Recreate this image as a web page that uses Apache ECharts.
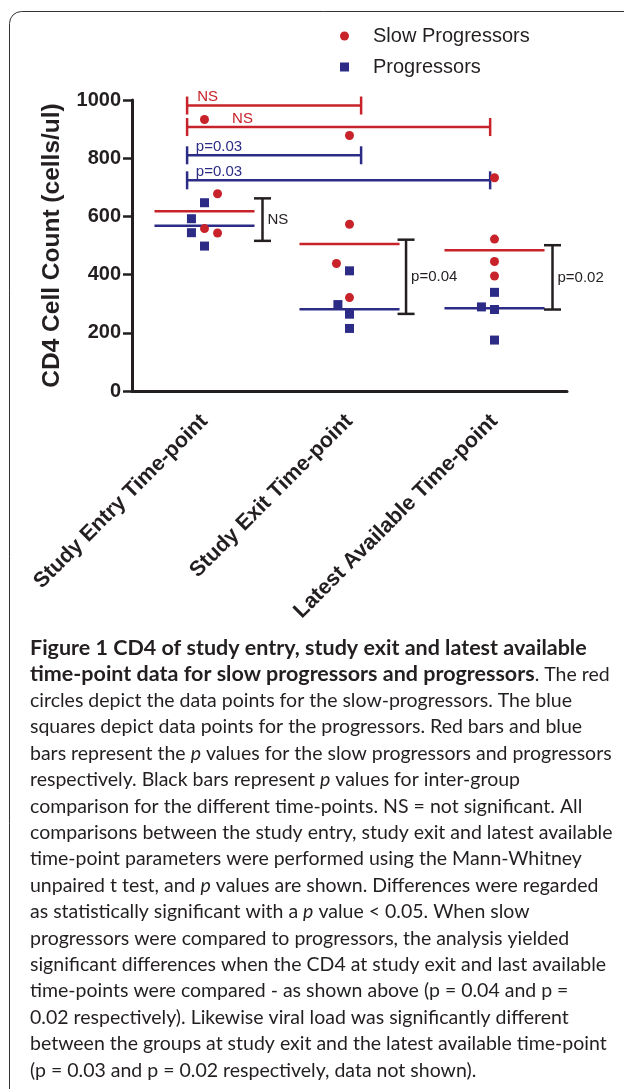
<!DOCTYPE html>
<html><head><meta charset="utf-8">
<script src="https://cdn.jsdelivr.net/npm/echarts@6/dist/echarts.min.js"></script>
<style>html,body{margin:0;padding:0;background:#fff}#c{width:624px;height:1089px}</style>
</head><body><div id="c"></div>
<script>
// ---------------- data ----------------
const categories = ['Study Entry Time-point', 'Study Exit Time-point', 'Latest Available Time-point'];
const seriesNames = ['Slow Progressors', 'Progressors'];
const slowValues = [[933, 678, 558, 543], [878, 573, 438, 321], [733, 522, 445, 395]];
const slowJitter = [[0, 0.09, 0, 0.09], [0, 0, -0.09, 0], [0, 0, 0, 0]];
const progValues = [[647, 592, 544, 498], [413, 297, 264, 215], [339, 289, 280, 175]];
const progJitter = [[0, -0.09, -0.09, 0], [0, -0.08, 0, 0], [0, -0.09, 0, 0]];
const yTicks = [0, 200, 400, 600, 800, 1000];
// within-group comparisons: [fromX, toX, level, labelX]
const slowComparisons = [[-0.12, 1.08, 981, -0.05], [-0.12, 1.97, 907, 0.19]];
const slowLabels = ['NS', 'NS'];
const progComparisons = [[-0.12, 1.08, 810, -0.06], [-0.12, 1.97, 724, -0.06]];
const progLabels = ['p=0.03', 'p=0.03'];
// between-group comparisons: [x, upper, lower]
const groupComparisons = [[0.4, 662, 516], [1.39, 520, 265], [2.4, 501, 280]];
const groupLabels = ['NS', 'p=0.04', 'p=0.02'];
const captionLines = [
  '{b|Figure 1 CD4 of study entry, study exit and latest available}',
  '{b|time-point data for slow progressors and progressors}. The red',
  'circles depict the data points for the slow-progressors. The blue',
  'squares depict data points for the progressors. Red bars and blue',
  'bars represent the {i|p} values for the slow progressors and progressors',
  'respectively. Black bars represent {i|p} values for inter-group',
  'comparison for the different time-points. NS = not significant. All',
  'comparisons between the study entry, study exit and latest available',
  'time-point parameters were performed using the Mann-Whitney',
  'unpaired t test, and {i|p} values are shown. Differences were regarded',
  'as statistically significant with a {i|p} value < 0.05. When slow',
  'progressors were compared to progressors, the analysis yielded',
  'significant differences when the CD4 at study exit and last available',
  'time-points were compared - as shown above (p = 0.04 and p =',
  '0.02 respectively). Likewise viral load was significantly different',
  'between the groups at study exit and the latest available time-point',
  '(p = 0.03 and p = 0.02 respectively, data not shown).'
];
// --------------------------------------

const RED = '#c8222a', BLUE = '#2c2c86', BLACK = '#231f20';
const FONT = '"Liberation Sans", Arial, sans-serif';
const CAP_FONT = 'Lato, "Open Sans", sans-serif';
const CAP_SIZE = 19.5, CAP_BOLD_SIZE = 21.5;

function median(a) {
  const s = a.slice().sort((x, y) => x - y), n = s.length;
  return n % 2 ? s[(n - 1) / 2] : (s[n / 2 - 1] + s[n / 2]) / 2;
}
function points(vals, jit) {
  const out = [];
  vals.forEach((arr, i) => arr.forEach((v, j) => out.push([i + jit[i][j], v])));
  return out;
}
function lineEl(x1, y1, x2, y2, color) {
  return { type: 'line', shape: { x1, y1, x2, y2 }, style: { stroke: color, lineWidth: 2.5 } };
}
function textEl(x, y, text, color, align, valign) {
  return { type: 'text', x, y, style: { text, fill: color, font: '15px ' + FONT,
    align, verticalAlign: valign, textAlign: align, textVerticalAlign: valign } };
}
function hBracket(color, labels) {
  return function (params, api) {
    const y = api.value(2);
    const p1 = api.coord([api.value(0), y]), p2 = api.coord([api.value(1), y]);
    const pl = api.coord([api.value(3), y]);
    const c = 9;
    return { type: 'group', children: [
      lineEl(p1[0], p1[1], p2[0], p2[1], color),
      lineEl(p1[0], p1[1] - c, p1[0], p1[1] + c, color),
      lineEl(p2[0], p2[1] - c, p2[0], p2[1] + c, color),
      textEl(pl[0], p1[1] - 1, labels[params.dataIndex], color, 'left', 'bottom')
    ] };
  };
}
function vBracket(params, api) {
  const x = api.value(0);
  const a = api.coord([x, api.value(1)]), b = api.coord([x, api.value(2)]);
  const c = 8.5;
  return { type: 'group', children: [
    lineEl(a[0], a[1], b[0], b[1], BLACK),
    lineEl(a[0] - c, a[1], a[0] + c, a[1], BLACK),
    lineEl(b[0] - c, b[1], b[0] + c, b[1], BLACK),
    textEl(a[0] + 5, (a[1] + b[1]) / 2, groupLabels[params.dataIndex], BLACK, 'left', 'middle')
  ] };
}
function medianLine(color) {
  return function (params, api) {
    const i = api.value(0), m = api.value(1);
    const a = api.coord([i - 0.345, m]), b = api.coord([i + 0.345, m]);
    return lineEl(a[0], a[1], b[0], b[1], color);
  };
}

const chart = echarts.init(document.getElementById('c'), null, { renderer: 'canvas' });
const captionGraphics = captionLines.map((t, k) => ({
  type: 'text', x: 30, y: 648 + k * 26.4, z: 10,
  style: { text: t, fill: BLACK, fontSize: CAP_SIZE, fontFamily: CAP_FONT,
    verticalAlign: 'middle', textVerticalAlign: 'middle',
    rich: {
      b: { fontWeight: 'bold', fontSize: CAP_BOLD_SIZE, fontFamily: CAP_FONT, fill: BLACK },
      i: { fontStyle: 'italic', fontSize: CAP_SIZE, fontFamily: CAP_FONT, fill: BLACK }
    } }
}));

chart.setOption({
  animation: false,
  backgroundColor: '#ffffff',
  textStyle: { fontFamily: FONT },
  grid: { left: 132, right: 57, top: 100, bottom: 698, containLabel: false },
  legend: {
    orient: 'vertical', left: 335, top: 21, itemWidth: 9, itemHeight: 9, itemGap: 11,
    data: [{ name: seriesNames[0], icon: 'circle' }, { name: seriesNames[1], icon: 'rect' }],
    textStyle: { fontSize: 20, color: BLACK, fontFamily: FONT, padding: [0, 0, 0, 19] },
    selectedMode: false
  },
  xAxis: [{
    type: 'category', data: categories, boundaryGap: true,
    axisLine: { onZero: false, lineStyle: { color: BLACK, width: 3 } },
    axisTick: { alignWithLabel: true, length: 9, lineStyle: { color: BLACK, width: 2.5 } },
    axisLabel: { rotate: 45, interval: 0, margin: 27, color: BLACK, fontSize: 21.5, fontWeight: 'bold', fontFamily: FONT },
    splitLine: { show: false }
  }, {
    type: 'value', min: -0.5, max: 2.5, show: false
  }],
  yAxis: {
    type: 'value', min: yTicks[0], max: yTicks[yTicks.length - 1], interval: yTicks[1] - yTicks[0],
    name: 'CD4 Cell Count (cells/ul)', nameLocation: 'middle', nameGap: 67,
    nameTextStyle: { fontSize: 24.5, fontWeight: 'bold', color: BLACK, fontFamily: FONT },
    axisLine: { show: true, onZero: false, lineStyle: { color: BLACK, width: 3 } },
    axisTick: { show: true, length: 9, lineStyle: { color: BLACK, width: 2.5 } },
    axisLabel: { margin: 11, color: BLACK, fontSize: 20, fontWeight: 'bold', fontFamily: FONT,
      formatter: v => String(v) },
    splitLine: { show: false }
  },
  graphic: [{
    type: 'rect', shape: { x: 9.5, y: 11.5, width: 800, height: 1300, r: 12 },
    style: { fill: 'none', stroke: '#333333', lineWidth: 1 }, z: 0, silent: true
  }].concat(captionGraphics),
  series: [
    { type: 'custom', xAxisIndex: 1, renderItem: medianLine(RED), z: 2,
      data: slowValues.map((a, i) => [i, median(a)]) },
    { type: 'custom', xAxisIndex: 1, renderItem: medianLine(BLUE), z: 2,
      data: progValues.map((a, i) => [i, median(a)]) },
    { type: 'custom', xAxisIndex: 1, renderItem: hBracket(RED, slowLabels), z: 2, data: slowComparisons },
    { type: 'custom', xAxisIndex: 1, renderItem: hBracket(BLUE, progLabels), z: 2, data: progComparisons },
    { type: 'custom', xAxisIndex: 1, renderItem: vBracket, z: 2, data: groupComparisons },
    { name: seriesNames[0], type: 'scatter', xAxisIndex: 1, symbol: 'circle', symbolSize: 9, z: 5,
      itemStyle: { color: RED, opacity: 1 }, data: points(slowValues, slowJitter) },
    { name: seriesNames[1], type: 'scatter', xAxisIndex: 1, symbol: 'rect', symbolSize: 9, z: 5,
      itemStyle: { color: BLUE, opacity: 1 }, data: points(progValues, progJitter) }
  ]
});
</script>
</body></html>
